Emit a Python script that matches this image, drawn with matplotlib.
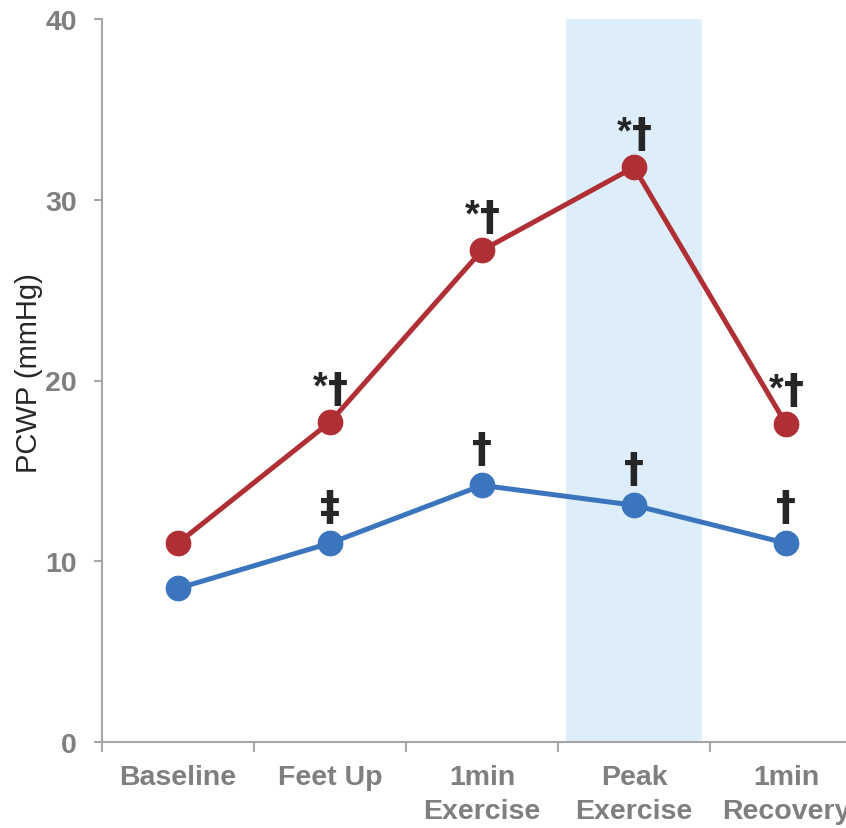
import matplotlib
matplotlib.use("Agg")
import matplotlib.pyplot as plt

categories = ["Baseline", "Feet Up", "1min\nExercise", "Peak\nExercise", "1min\nRecovery"]
red_values = [11.0, 17.7, 27.2, 31.8, 17.6]
blue_values = [8.5, 11.0, 14.2, 13.1, 11.0]
red_stars = [False, True, True, True, True]
red_daggers = ["", "\u2020", "\u2020", "\u2020", "\u2020"]
blue_daggers = ["", "\u2021", "\u2020", "\u2020", "\u2020"]
y_ticks = [0, 10, 20, 30, 40]
shade_span = (2.55, 3.45)

RED = "#B02F35"
BLUE = "#3A75BD"
SHADE = "#DDEDFA"
GREY = "#7F7F7F"
SPINE = "#A6A6A6"
INK = "#262626"

W, H = 846, 829
fig = plt.figure(figsize=(W / 100, H / 100), dpi=100)
ax = fig.add_axes([102 / W, (H - 743) / H, 760 / W, 723 / H])

x = list(range(len(categories)))
ax.axvspan(shade_span[0], shade_span[1], color=SHADE, zorder=0, lw=0)
ax.plot(x, red_values, color=RED, lw=3.6, marker="o", ms=17.5, zorder=3)
ax.plot(x, blue_values, color=BLUE, lw=3.6, marker="o", ms=17.5, zorder=3)

dag_kw = dict(textcoords="offset points", ha="center", va="bottom", fontsize=29,
              fontweight="bold", color=INK, family=["DejaVu Sans"], zorder=4)
star_kw = dict(textcoords="offset points", ha="center", va="top", fontsize=27,
               fontweight="bold", color=INK, family=["Liberation Sans"], zorder=4)

for xi, v, s, d in zip(x, red_values, red_stars, red_daggers):
    if d:
        ax.annotate(d, (xi, v), xytext=(6, 9), **dag_kw)
    if s:
        ax.annotate("*", (xi, v), xytext=(-7, 38), **star_kw)
for xi, v, d in zip(x, blue_values, blue_daggers):
    if d:
        ax.annotate(d, (xi, v), xytext=(0, 11), **dag_kw)

ax.set_xlim(-0.5, 4.5)
ax.set_ylim(0, 40)
ax.set_yticks(y_ticks)
ax.set_yticklabels([str(t) for t in y_ticks], fontsize=20.5, fontweight="bold",
                   color=GREY, family="Liberation Sans")
ax.set_xticks([i + 0.5 for i in range(-1, len(categories))], minor=False)
ax.set_xticklabels([])
ax.set_xticks(x, minor=True)
ax.set_xticklabels(categories, minor=True, fontsize=20.5, fontweight="bold",
                   color=GREY, family="Liberation Sans", linespacing=1.38)
ax.tick_params(axis="x", which="minor", length=0, pad=16)
ax.tick_params(axis="x", which="major", length=7, width=1.5, color=SPINE)
ax.tick_params(axis="y", length=6, width=1.5, color=SPINE, pad=12)

for s in ["top", "right"]:
    ax.spines[s].set_visible(False)
for s in ["left", "bottom"]:
    ax.spines[s].set_color(SPINE)
    ax.spines[s].set_linewidth(1.5)

ax.set_ylabel("PCWP (mmHg)", fontsize=21, color=INK, family="Liberation Sans")
ax.yaxis.set_label_coords(-0.077, 0.512)

fig.savefig("out.png", dpi=100)
